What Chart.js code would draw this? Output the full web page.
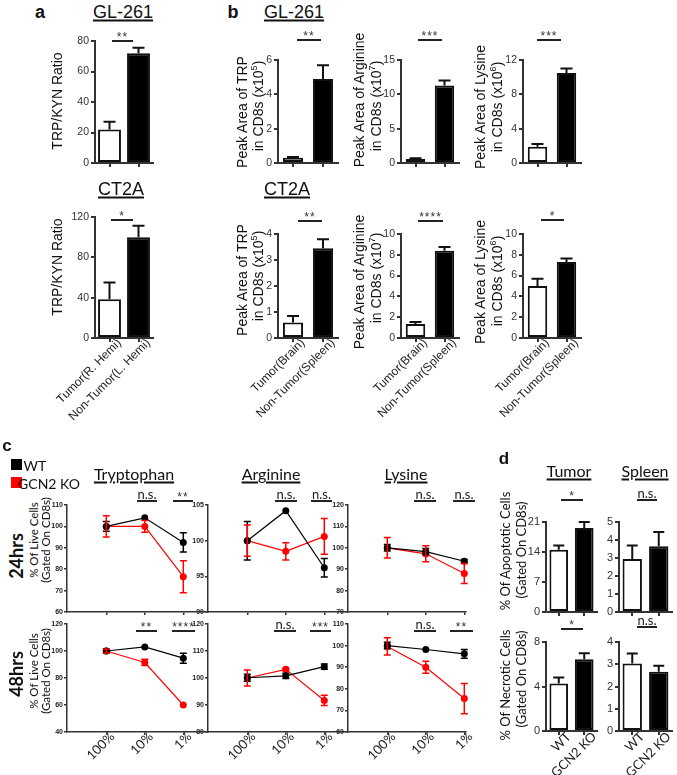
<!DOCTYPE html>
<html>
<head>
<meta charset="utf-8">
<script src="https://cdn.jsdelivr.net/npm/chart.js@4.4.0/dist/chart.umd.min.js"></script>
<style>
  html, body { margin: 0; padding: 0; background: #fff; }
  #stage { position: relative; width: 677px; height: 775px; overflow: hidden; background: #fff; color: #111; }
  #stage canvas { position: absolute; }
  .t { position: absolute; white-space: nowrap; transform: translate(-50%, -50%); line-height: 1; }
  .u { text-decoration: underline; text-decoration-thickness: 1.5px; text-underline-offset: 2px; }
  .sl { position: absolute; height: 1.5px; background: #222; }
  .sw { position: absolute; width: 11px; height: 11px; }
</style>
</head>
<body>
<div id="stage"></div>
<script>
// ---- data ----
var aCats = ["Tumor(R. Hemi)", "Non-Tumor(L. Hemi)"];
var aGlRatio = [22, 72], aGlErr = [5, 3.5];
var aCtRatio = [38.5, 100], aCtErr = [16.5, 11.2];

var bCats = ["Tumor(Brain)", "Non-Tumor(Spleen)"];
var bGlTrp = [0.3, 4.9], bGlTrpErr = [0.05, 0.8];
var bGlArg = [0.6, 11.3], bGlArgErr = [0.1, 0.7];
var bGlLys = [1.9, 10.5], bGlLysErr = [0.3, 0.5];
var bCtTrp = [0.6, 3.45], bCtTrpErr = [0.25, 0.35];
var bCtArg = [1.35, 8.4], bCtArgErr = [0.2, 0.35];
var bCtLys = [5.0, 7.3], bCtLysErr = [0.7, 0.35];

var cCats = ["100%", "10%", "1%"];
var trp24Wt = [100, 104, 92.5], trp24WtErr = [2.3, 0, 4.5];
var trp24Ko = [100, 100, 76.5], trp24KoErr = [5, 2.7, 7.5];
var arg24Wt = [100, 104.2, 96.2], arg24WtErr = [2.7, 0, 1.3];
var arg24Ko = [100, 98.5, 100.6], arg24KoErr = [2.2, 1.2, 2.5];
var lys24Wt = [100, 98.2, 93.7], lys24WtErr = [1.5, 1.5, 0.8];
var lys24Ko = [100, 97.2, 88], lys24KoErr = [4.8, 3.7, 4.7];
var trp48Wt = [100, 103, 94.7], trp48WtErr = [1.5, 0, 3.7];
var trp48Ko = [100, 91.5, 60], trp48KoErr = [1.5, 2.3, 0];
var arg48Wt = [100.1, 100.8, 104.2], arg48WtErr = [1.3, 1, 1];
var arg48Ko = [100, 103.2, 91.7], arg48KoErr = [3, 0.5, 1.9];
var lys48Wt = [100, 98.2, 96.2], lys48WtErr = [1.5, 0, 2];
var lys48Ko = [99.6, 90, 75.5], lys48KoErr = [4, 2.8, 7];

var dCats = ["WT", "GCN2 KO"];
var dTumApo = [14.5, 19.6], dTumApoErr = [1.0, 1.4];
var dSplApo = [2.95, 3.65], dSplApoErr = [0.75, 0.8];
var dTumNec = [4.27, 6.45], dTumNecErr = [0.53, 0.55];
var dSplNec = [3.03, 2.66], dSplNecErr = [0.45, 0.27];

var ARIAL = '"Liberation Sans", Arial, sans-serif';
var CAL = 'Lato, "Open Sans", sans-serif';
var RED = "#ff0000";

var stage = document.getElementById("stage");

// error bars drawn from each dataset's err array through the y scale
var errorBars = {
  id: "errorBars",
  afterDatasetsDraw: function (chart) {
    var ctx = chart.ctx, ys = chart.scales.y;
    chart.data.datasets.forEach(function (ds, di) {
      if (!ds.err) return;
      var meta = chart.getDatasetMeta(di);
      ctx.save();
      ctx.strokeStyle = ds.errColor || "#111";
      ctx.lineWidth = ds.errWidth || 2;
      meta.data.forEach(function (el, i) {
        var v = ds.data[i], e = ds.err[i];
        if (typeof v === "object") v = v.y;
        if (!e) return;
        var hi = ys.getPixelForValue(v + e);
        var lo = ys.getPixelForValue(ds.errBoth ? v - e : v);
        var c = ds.capW / 2, x = el.x;
        ctx.beginPath();
        ctx.moveTo(x, lo); ctx.lineTo(x, hi);
        ctx.moveTo(x - c, hi); ctx.lineTo(x + c, hi);
        if (ds.errBoth) { ctx.moveTo(x - c, lo); ctx.lineTo(x + c, lo); }
        ctx.stroke();
      });
      ctx.restore();
    });
  }
};

function axisStyle(color, width, tickLen) {
  return {
    grid: { drawOnChartArea: false, drawTicks: true, tickLength: tickLen, color: color, lineWidth: width, offset: false },
    border: { display: true, color: color, width: width }
  };
}

function makeCanvas(x, top, w, h, padL, padT, padR, padB) {
  var cv = document.createElement("canvas");
  cv.width = padL + w + padR;
  cv.height = padT + h + padB;
  cv.style.left = (x - padL) + "px";
  cv.style.top = (top - padT) + "px";
  stage.appendChild(cv);
  return cv;
}

function barPlot(s) {
  var padL = 80, padT = 10, padR = 24, padB = 90;
  var top = Math.round(s.top), h = Math.round(s.bottom) - top;
  var cv = makeCanvas(s.x, top, s.w, h, padL, padT, padR, padB);
  new Chart(cv, {
    type: "bar",
    data: {
      labels: s.labels,
      datasets: [{
        data: s.data, err: s.err, capW: s.cap || 12, errWidth: 2,
        backgroundColor: ["#fff", "#000"], borderColor: "#111", borderWidth: 2,
        borderSkipped: false, barPercentage: s.bp, categoryPercentage: 1
      }]
    },
    options: {
      responsive: false, animation: false,
      layout: { padding: { top: padT, right: padR, left: 0, bottom: 0 } },
      scales: {
        x: Object.assign({
          type: "category", offset: true,
          ticks: { display: !!s.showX, minRotation: 45, maxRotation: 45, autoSkip: false, padding: -6, labelOffset: 10,
                   color: "#222", font: { family: s.xFont || ARIAL, size: s.xSize || 12 } },
          afterFit: function (sc) { sc.height = padB; }
        }, axisStyle("#333", 2, 4)),
        y: Object.assign({
          type: "linear", min: 0, max: s.yMax,
          ticks: { stepSize: s.yStep, padding: 2, color: "#333", font: { size: s.ySize || 10.5 } },
          afterFit: function (sc) { sc.width = padL; }
        }, axisStyle("#333", 2, 4))
      },
      plugins: { legend: { display: false }, tooltip: { enabled: false } }
    },
    plugins: [errorBars]
  });
}

function pts(vals) {
  return vals.map(function (v, i) { return { x: i, y: v }; });
}

function series(vals, errs, color) {
  return {
    data: pts(vals), err: errs, errBoth: true, capW: 7, errColor: color, errWidth: 1.5,
    borderColor: color, backgroundColor: color, borderWidth: 1.2,
    pointRadius: 3.5, pointBorderWidth: 0, clip: false
  };
}

// first category sits 39px right of the y axis, 38.5px between categories
function linePlot(s) {
  var padL = 26, padT = 10, padR = 24, padB = 50;
  var top = Math.round(s.top), h = Math.round(s.bottom) - top;
  var cv = makeCanvas(s.x, top, s.w, h, padL, padT, padR, padB);
  var step = 38.5, first = 39.3;
  new Chart(cv, {
    type: "line",
    data: { datasets: [series(s.wt, s.wtErr, "#000"), series(s.ko, s.koErr, RED)] },
    options: {
      responsive: false, animation: false,
      layout: { padding: { top: padT, right: padR, left: 0, bottom: 0 } },
      scales: {
        x: Object.assign({
          type: "linear", min: -first / step, max: (s.w - first) / step,
          afterBuildTicks: function (sc) { sc.ticks = cCats.map(function (c, i) { return { value: i }; }); },
          ticks: { display: !!s.showX, minRotation: 45, maxRotation: 45, padding: -6, labelOffset: 6, color: "#222",
                   font: { family: CAL, size: 13 },
                   callback: function (v) { return cCats[v]; } },
          afterFit: function (sc) { sc.height = padB; }
        }, axisStyle("#333", 1.5, 3)),
        y: Object.assign({
          type: "linear", min: s.yMin, max: s.yMax,
          ticks: { stepSize: s.yStep, padding: 1, color: "#222", font: { size: 7, weight: "bold" } },
          afterFit: function (sc) { sc.width = padL; }
        }, axisStyle("#333", 1.5, 3))
      },
      plugins: { legend: { display: false }, tooltip: { enabled: false } }
    },
    plugins: [errorBars]
  });
}

// ---- text helpers ----
function txt(html, x, y, css, rot) {
  var d = document.createElement("div");
  d.className = "t";
  d.innerHTML = html;
  d.style.cssText = "left:" + x + "px;top:" + y + "px;" + (css || "");
  if (rot) d.style.transform = "translate(-50%,-50%) rotate(" + rot + "deg)";
  stage.appendChild(d);
  return d;
}

function sig(x1, x2, y, mark) {
  var l = document.createElement("div");
  l.className = "sl";
  l.style.left = x1 + "px"; l.style.top = (y - 0.75) + "px"; l.style.width = (x2 - x1) + "px";
  stage.appendChild(l);
  if (mark === "n.s.") txt(mark, (x1 + x2) / 2, y - 7.5, "font:13px " + CAL + ";color:#222");
  else txt(mark, (x1 + x2) / 2, y - 4.5, "font:12px " + ARIAL + ";color:#333;letter-spacing:1px");
}

// ---- panel a ----
barPlot({ x: 95, top: 41, bottom: 163, w: 58, labels: aCats, data: aGlRatio, err: aGlErr, yMax: 80, yStep: 20, bp: 0.79 });
barPlot({ x: 95, top: 216.7, bottom: 338.3, w: 58, labels: aCats, data: aCtRatio, err: aCtErr, yMax: 120, yStep: 40, bp: 0.79, showX: true });

// ---- panel b ----
barPlot({ x: 278, top: 60, bottom: 163, w: 60, labels: bCats, data: bGlTrp, err: bGlTrpErr, yMax: 6, yStep: 2, bp: 0.67 });
barPlot({ x: 401, top: 60, bottom: 163, w: 58, labels: bCats, data: bGlArg, err: bGlArgErr, yMax: 15, yStep: 5, bp: 0.67 });
barPlot({ x: 523, top: 60, bottom: 163, w: 58, labels: bCats, data: bGlLys, err: bGlLysErr, yMax: 12, yStep: 4, bp: 0.67 });
barPlot({ x: 278, top: 233.5, bottom: 338.3, w: 60, labels: bCats, data: bCtTrp, err: bCtTrpErr, yMax: 4, yStep: 1, bp: 0.67, showX: true });
barPlot({ x: 401, top: 233.5, bottom: 338.3, w: 58, labels: bCats, data: bCtArg, err: bCtArgErr, yMax: 10, yStep: 2, bp: 0.67, showX: true });
barPlot({ x: 523, top: 233.5, bottom: 338.3, w: 58, labels: bCats, data: bCtLys, err: bCtLysErr, yMax: 10, yStep: 2, bp: 0.67, showX: true });

// ---- panel c ----
linePlot({ x: 67, top: 505, bottom: 612, w: 141, wt: trp24Wt, wtErr: trp24WtErr, ko: trp24Ko, koErr: trp24KoErr, yMin: 60, yMax: 110, yStep: 10 });
linePlot({ x: 208, top: 505, bottom: 612, w: 140, wt: arg24Wt, wtErr: arg24WtErr, ko: arg24Ko, koErr: arg24KoErr, yMin: 90, yMax: 105, yStep: 5 });
linePlot({ x: 348, top: 505, bottom: 612, w: 118, wt: lys24Wt, wtErr: lys24WtErr, ko: lys24Ko, koErr: lys24KoErr, yMin: 70, yMax: 120, yStep: 10 });
linePlot({ x: 67, top: 624, bottom: 731.5, w: 141, wt: trp48Wt, wtErr: trp48WtErr, ko: trp48Ko, koErr: trp48KoErr, yMin: 40, yMax: 120, yStep: 20, showX: true });
linePlot({ x: 208, top: 624, bottom: 731.5, w: 140, wt: arg48Wt, wtErr: arg48WtErr, ko: arg48Ko, koErr: arg48KoErr, yMin: 80, yMax: 120, yStep: 10, showX: true });
linePlot({ x: 348, top: 624, bottom: 731.5, w: 118, wt: lys48Wt, wtErr: lys48WtErr, ko: lys48Ko, koErr: lys48KoErr, yMin: 60, yMax: 110, yStep: 10, showX: true });

// ---- panel d ----
var dOpts = { xFont: CAL, xSize: 13, ySize: 11, bp: 0.73, cap: 11 };
barPlot(Object.assign({ x: 546, top: 522.3, bottom: 612.3, w: 51, labels: dCats, data: dTumApo, err: dTumApoErr, yMax: 21, yStep: 7 }, dOpts));
barPlot(Object.assign({ x: 619, top: 522.3, bottom: 612.3, w: 53, labels: dCats, data: dSplApo, err: dSplApoErr, yMax: 5, yStep: 1 }, dOpts));
barPlot(Object.assign({ x: 546, top: 641.7, bottom: 731, w: 51, labels: dCats, data: dTumNec, err: dTumNecErr, yMax: 8, yStep: 4, showX: true }, dOpts));
barPlot(Object.assign({ x: 619, top: 641.7, bottom: 731, w: 53, labels: dCats, data: dSplNec, err: dSplNecErr, yMax: 4, yStep: 1, showX: true }, dOpts));

// ---- headings and titles ----
var H1 = "font:18px " + ARIAL + ";";
var LET = "font:bold 18px " + ARIAL + ";";
txt("a", 40, 12, LET);
txt("GL-261", 123, 12, H1).classList.add("u");
txt("CT2A", 121, 189, H1).classList.add("u");
txt("b", 233, 12, LET);
txt("GL-261", 294, 12, H1).classList.add("u");
txt("CT2A", 287, 189, H1).classList.add("u");

var YT = "font:14px " + ARIAL + ";";
txt("TRP/KYN Ratio", 57, 101, YT, -90);
txt("TRP/KYN Ratio", 57, 267, YT, -90);
var SUP = function (n) { return '(x10<sup style="font-size:9px;line-height:0">' + n + "</sup>)"; };
txt("Peak Area of TRP", 242, 112, YT, -90);
txt("in CD8s " + SUP(5), 258, 106, YT, -90);
txt("Peak Area of Arginine", 359, 100, YT, -90);
txt("in CD8s " + SUP(7), 376, 106, YT, -90);
txt("Peak Area of Lysine", 480, 107, YT, -90);
txt("in CD8s " + SUP(6), 497, 107, YT, -90);
txt("Peak Area of TRP", 242, 280, YT, -90);
txt("in CD8s " + SUP(5), 258, 276, YT, -90);
txt("Peak Area of Arginine", 359, 282, YT, -90);
txt("in CD8s " + SUP(7), 376, 278, YT, -90);
txt("Peak Area of Lysine", 480, 282, YT, -90);
txt("in CD8s " + SUP(6), 497, 281, YT, -90);

txt("c", 7, 446, "font:bold 17px " + ARIAL + ";");
txt("d", 504, 459, "font:bold 17px " + ARIAL + ";");
var H2 = "font:16px " + CAL + ";";
txt("Tryptophan", 134, 473, H2).classList.add("u");
txt("Arginine", 271, 473, H2).classList.add("u");
txt("Lysine", 406, 473, H2).classList.add("u");
txt("Tumor", 569, 470, H2).classList.add("u");
txt("Spleen", 645, 470, H2).classList.add("u");

var sw1 = document.createElement("div"); sw1.className = "sw";
sw1.style.cssText = "left:11px;top:459px;background:#000";
stage.appendChild(sw1);
var sw2 = document.createElement("div"); sw2.className = "sw";
sw2.style.cssText = "left:11px;top:477px;background:" + RED;
stage.appendChild(sw2);
txt("WT", 35, 465, "font:14px " + CAL + ";");
txt("GCN2 KO", 49, 483, "font:14px " + CAL + ";");

txt("24hrs", 16, 556, "font:bold 18px " + CAL + ";", -90);
txt("48hrs", 16, 674, "font:bold 18px " + CAL + ";", -90);
var CY = "font:11.5px " + CAL + ";";
txt("% Of Live Cells", 33, 540, CY, -90);
txt("(Gated On CD8s)", 45, 540, CY, -90);
txt("% Of Live Cells", 33, 671, CY, -90);
txt("(Gated On CD8s)", 45, 671, CY, -90);

var DY = "font:13px " + CAL + ";";
txt("% Of Apoptotic Cells", 505, 551, DY, -90);
txt("(Gated On CD8s)", 521, 550, DY, -90);
txt("% Of Necrotic Cells", 505, 685, DY, -90);
txt("(Gated On CD8s)", 521, 679, DY, -90);

// ---- significance marks ----
sig(112, 133, 41, "**");
sig(111, 133, 220, "*");
sig(297, 321, 40, "**");
sig(418, 442, 40, "***");
sig(537, 561, 40, "***");
sig(298, 322, 221, "**");
sig(418, 443, 221, "****");
sig(541, 564, 220, "*");

sig(137, 157, 501, "n.s."); sig(173, 193, 501, "**");
sig(275, 297, 501, "n.s."); sig(311, 332, 501, "n.s.");
sig(414, 436, 501, "n.s."); sig(453, 475, 501, "n.s.");
sig(136, 157, 631, "**"); sig(172, 195, 631, "****");
sig(274, 296, 631, "n.s."); sig(310, 331, 631, "***");
sig(414, 436, 631, "n.s."); sig(450, 473, 631, "**");

sig(561, 583, 500, "*"); sig(637, 657, 500, "n.s.");
sig(561, 583, 629, "*"); sig(637, 657, 627, "n.s.");
</script>
</body>
</html>
